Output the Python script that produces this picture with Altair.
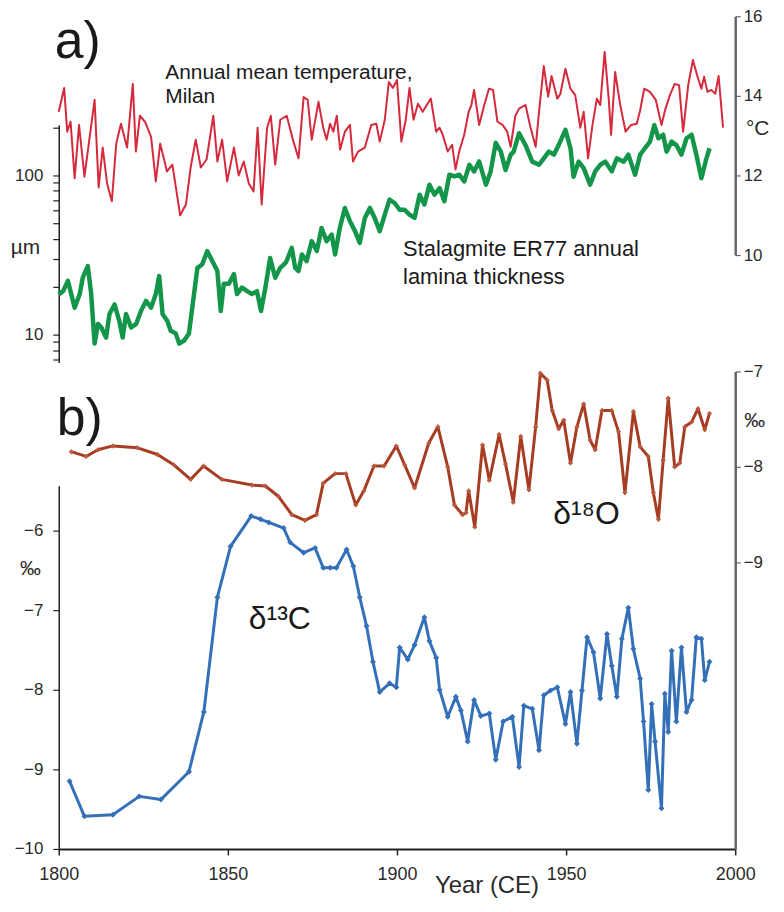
import altair as alt
import pandas as pd

# ---------------- data ----------------
temp_year = [1800.0, 1801.6, 1802.5, 1803.5, 1804.7, 1806.0, 1807.6, 1810.6, 1811.8, 1813.0,
             1814.3, 1815.7, 1817.0, 1818.4, 1820.2, 1821.9, 1822.8, 1824.0, 1825.5, 1827.3,
             1828.7, 1830.0, 1832.0, 1833.6, 1835.9, 1837.6, 1839.0, 1840.5, 1842.0, 1843.7,
             1845.7, 1846.9, 1848.3, 1849.8, 1851.8, 1853.2, 1854.7, 1856.2, 1857.6, 1858.8,
             1860.0, 1861.6, 1862.7, 1864.0, 1865.5, 1867.4, 1869.4, 1870.9, 1872.4, 1873.6,
             1874.8, 1876.8, 1878.2, 1879.2, 1880.2, 1881.2, 1882.2, 1883.2, 1884.6, 1886.1,
             1887.0, 1888.5, 1890.5, 1892.4, 1893.9, 1894.9, 1896.4, 1897.6, 1898.8, 1900.0,
             1901.3, 1902.6, 1903.7, 1904.9, 1906.2, 1907.6, 1908.8, 1910.0, 1911.6, 1912.6,
             1913.5, 1915.0, 1916.3, 1917.3, 1918.4, 1919.9, 1921.2, 1922.0, 1922.8, 1924.3,
             1925.8, 1927.2, 1928.4, 1929.7, 1931.2, 1932.6, 1933.6, 1935.0, 1936.1, 1938.0,
             1939.5, 1941.0, 1942.1, 1943.4, 1944.7, 1945.7, 1947.4, 1948.3, 1949.8, 1951.3,
             1952.7, 1954.2, 1955.2, 1956.5, 1957.8, 1959.1, 1960.1, 1961.4, 1962.6, 1963.3,
             1964.5, 1966.0, 1967.6, 1969.2, 1970.9, 1971.9, 1973.1, 1974.8, 1976.5, 1978.2,
             1979.4, 1980.7, 1982.1, 1983.4, 1984.6, 1986.1, 1987.5, 1988.8, 1990.0, 1990.8,
             1991.8, 1992.9, 1994.1, 1995.1, 1996.4]
temp_c = [13.6, 14.2, 13.1, 13.35, 11.93, 13.27, 11.97, 13.9, 11.7, 12.7,
          11.8, 11.35, 12.8, 13.3, 12.7, 14.3, 12.6, 13.5, 13.35, 12.97,
          11.85, 12.8, 12.1, 12.27, 11.0, 11.27, 12.2, 12.9, 12.2, 12.4,
          13.5, 12.35, 12.9, 11.85, 12.7, 12.0, 12.35, 11.8, 11.6, 13.2,
          11.27, 13.2, 13.5, 12.27, 13.4, 13.5, 12.85, 12.43, 13.97, 13.9,
          12.9, 13.85, 13.2, 12.9, 13.3, 13.1, 13.5, 12.65, 13.1, 13.27,
          12.35, 12.6, 12.7, 13.27, 13.3, 12.85, 13.4, 14.35, 14.2, 14.4,
          12.85, 13.4, 14.2, 13.4, 13.8, 13.6, 13.77, 13.93, 13.1, 13.2,
          13.03, 12.6, 12.77, 12.15, 12.6, 13.03, 13.6, 13.77, 14.15, 13.27,
          13.77, 14.18, 14.15, 13.35, 13.27, 13.1, 12.72, 13.5, 13.68, 13.77,
          13.2, 12.72, 13.68, 14.75, 13.98, 14.5, 13.93, 14.05, 14.68, 14.18,
          14.02, 13.2, 13.6, 12.43, 13.27, 13.93, 13.77, 15.1, 13.93, 13.02,
          14.6, 13.77, 13.1, 13.27, 13.3, 13.64, 14.18, 14.1, 13.9, 13.27,
          13.68, 14.02, 14.3, 14.27, 13.1, 14.27, 14.9, 14.5, 14.18, 14.48,
          14.1, 14.15, 14.05, 14.5, 13.2]

lam_year = [1800.0, 1801.3, 1802.7, 1804.7, 1806.2, 1807.1, 1808.6, 1809.6, 1810.6, 1811.6,
            1812.6, 1814.0, 1815.0, 1816.5, 1817.9, 1818.9, 1819.9, 1821.4, 1822.9, 1824.3,
            1825.8, 1827.3, 1828.7, 1829.7, 1830.7, 1832.1, 1833.1, 1834.6, 1835.6, 1837.1,
            1838.5, 1840.0, 1841.0, 1842.4, 1843.9, 1845.4, 1846.9, 1847.9, 1848.8, 1850.3,
            1851.8, 1852.7, 1854.2, 1855.7, 1857.1, 1858.6, 1859.8, 1861.1, 1862.5, 1864.0,
            1865.5, 1867.2, 1868.9, 1869.9, 1870.9, 1871.9, 1873.3, 1874.8, 1876.3, 1877.7,
            1879.2, 1880.7, 1881.7, 1883.1, 1884.6, 1886.1, 1887.6, 1889.0, 1890.5, 1892.0,
            1893.4, 1894.9, 1896.4, 1897.8, 1899.3, 1900.8, 1902.2, 1903.7, 1905.2, 1906.7,
            1908.1, 1909.6, 1911.1, 1912.6, 1914.0, 1915.5, 1917.0, 1918.4, 1919.9, 1921.4,
            1922.8, 1924.3, 1926.3, 1927.7, 1929.2, 1930.7, 1932.1, 1933.6, 1934.5, 1936.1,
            1938.0, 1940.0, 1942.0, 1943.4, 1944.9, 1946.4, 1947.8, 1949.8, 1951.3, 1952.2,
            1953.7, 1955.2, 1957.1, 1958.6, 1960.1, 1961.6, 1963.5, 1965.0, 1967.0, 1968.4,
            1970.4, 1971.9, 1973.3, 1974.8, 1976.1, 1977.3, 1978.7, 1979.7, 1981.2, 1982.6,
            1984.1, 1985.6, 1987.1, 1988.5, 1990.0, 1991.5, 1992.4]
lam_um = [17.9, 18.8, 21.8, 14.8, 18.0, 22.8, 27.0, 18.0, 8.8, 11.7,
          11.1, 9.6, 13.5, 15.5, 12.2, 9.6, 13.5, 11.1, 11.7, 14.1,
          16.3, 14.8, 18.0, 23.4, 13.5, 12.2, 10.6, 10.2, 8.8, 9.2,
          10.2, 18.0, 26.3, 27.6, 33.5, 29.0, 25.1, 14.1, 20.9, 20.9,
          24.0, 18.0, 19.8, 18.8, 18.0, 18.8, 14.1, 19.8, 30.3, 22.8,
          26.3, 28.5, 35.1, 26.3, 25.1, 31.9, 29.0, 38.7, 33.5, 46.8,
          38.7, 42.5, 31.9, 46.8, 62.5, 51.6, 44.7, 37.7, 54.1, 62.5,
          54.1, 44.7, 56.8, 70.5, 67.1, 60.9, 60.9, 56.8, 54.1, 75.7,
          65.6, 87.4, 75.7, 83.3, 68.8, 101.0, 98.6, 101.0, 91.7, 116.6,
          105.9, 122.4, 87.4, 105.9, 160.0, 141.0, 108.0, 134.6, 141.0, 184.0,
          155.0, 122.0, 116.6, 128.0, 141.0, 135.0, 155.0, 193.0, 148.0, 98.0,
          122.0, 111.0, 87.4, 106.0, 116.6, 122.0, 106.0, 128.0, 122.0, 135.0,
          101.0, 135.0, 148.0, 163.0, 207.0, 171.0, 180.0, 141.0, 163.0, 155.0,
          135.0, 171.0, 180.0, 135.0, 96.0, 128.0, 148.0]

d18_year = [1803.7, 1808.1, 1811.6, 1816.0, 1823.3, 1829.2, 1834.1, 1839.0, 1842.8, 1848.2,
            1857.1, 1861.1, 1865.0, 1868.9, 1872.8, 1876.2, 1878.2, 1881.7, 1884.9, 1887.8,
            1890.2, 1893.2, 1896.2, 1899.8, 1902.3, 1905.2, 1909.4, 1912.1, 1915.0, 1917.0,
            1919.4, 1920.4, 1921.2, 1923.0, 1925.3, 1927.3, 1930.2, 1932.1, 1934.4, 1936.6,
            1939.0, 1941.0, 1942.4, 1944.4, 1945.9, 1947.8, 1949.3, 1951.3, 1953.2, 1955.2,
            1957.1, 1958.6, 1960.6, 1963.5, 1965.5, 1967.4, 1969.9, 1971.9, 1974.3, 1975.8,
            1977.3, 1978.7, 1980.2, 1982.1, 1983.6, 1985.1, 1987.1, 1989.0, 1991.0, 1992.4]
d18_permil = [-7.84, -7.89, -7.82, -7.78, -7.80, -7.87, -7.98, -8.13, -7.99, -8.13,
              -8.19, -8.20, -8.31, -8.50, -8.56, -8.50, -8.17, -8.07, -8.07, -8.40,
              -8.25, -7.99, -7.99, -7.78, -7.98, -8.22, -7.75, -7.58, -8.00, -8.40,
              -8.50, -8.48, -8.25, -8.63, -7.77, -8.14, -7.66, -7.97, -8.37, -7.68,
              -8.24, -7.58, -7.02, -7.09, -7.41, -7.60, -7.51, -7.96, -7.58, -7.34,
              -7.72, -7.82, -7.41, -7.41, -7.63, -8.27, -7.42, -7.79, -7.89, -8.27,
              -8.55, -7.93, -7.28, -8.00, -7.96, -7.58, -7.53, -7.39, -7.61, -7.44]

d13_year = [1803.2, 1807.6, 1816.0, 1823.8, 1830.2, 1838.5, 1842.9, 1846.9, 1850.8, 1856.9,
            1859.7, 1862.1, 1866.5, 1868.4, 1872.4, 1875.8, 1878.2, 1880.2, 1882.1, 1885.1,
            1887.1, 1889.0, 1891.0, 1892.9, 1894.9, 1897.8, 1899.8, 1900.8, 1903.2, 1905.2,
            1908.1, 1909.6, 1911.6, 1912.6, 1915.0, 1917.4, 1918.9, 1920.9, 1922.8, 1924.8,
            1927.3, 1929.2, 1931.4, 1934.1, 1936.1, 1937.5, 1940.0, 1942.0, 1943.4, 1945.4,
            1947.4, 1949.8, 1951.3, 1953.2, 1954.7, 1956.2, 1958.1, 1960.1, 1962.1, 1963.5,
            1965.0, 1966.5, 1968.4, 1969.9, 1971.9, 1972.9, 1974.3, 1975.3, 1976.3, 1978.2,
            1979.2, 1980.2, 1981.2, 1982.6, 1984.1, 1985.6, 1987.1, 1988.5, 1990.0, 1991.0,
            1992.4]
d13_permil = [-9.15, -9.59, -9.57, -9.34, -9.38, -9.03, -8.28, -6.84, -6.20, -5.82,
              -5.86, -5.90, -5.97, -6.15, -6.28, -6.22, -6.47, -6.47, -6.47, -6.24,
              -6.45, -6.84, -7.20, -7.65, -8.03, -7.92, -7.97, -7.47, -7.62, -7.44,
              -7.09, -7.39, -7.60, -8.00, -8.34, -8.09, -8.26, -8.65, -8.13, -8.33,
              -8.30, -8.88, -8.40, -8.34, -8.97, -8.20, -8.24, -8.76, -8.07, -8.01,
              -7.97, -8.43, -8.03, -8.68, -8.01, -7.34, -7.53, -8.11, -7.30, -7.70,
              -8.09, -7.36, -6.97, -7.49, -7.86, -8.40, -9.26, -8.18, -8.65, -9.49,
              -8.05, -8.53, -7.51, -8.40, -7.47, -8.28, -8.13, -7.34, -7.36, -7.88,
              -7.65]

x_ticks = [1800, 1850, 1900, 1950, 2000]
temp_ticks = [10, 12, 14, 16]
lam_ticks = [7, 8, 9, 10, 20, 30, 40, 50, 60, 70, 80, 90, 100, 200]
d18_ticks = [-9, -8, -7]
d13_ticks = [-10, -9, -8, -7, -6]

ann_a_year = [1798.8, 1831.5, 1831.5, 1901.8, 1901.8]
ann_a_val = [14.95, 14.42, 13.82, 9.975, 9.275]
ann_a_text = ["a)", "Annual mean temperature,", "Milan", "Stalagmite ER77 annual", "lamina thickness"]
ann_a_size = [52, 21, 21, 22, 22]

ann_b_year = [1799.4, 1946.2]
ann_b_val = [-7.667, -8.60]
ann_b_text = ["b)", "δ¹⁸O"]
ann_b_size = [52, 32]

ann_c_year = [1856.2]
ann_c_val = [-7.24]
ann_c_text = ["δ¹³C"]
ann_c_size = [32]

# ---------------- styling ----------------
FONT = "Liberation Sans, Arial, sans-serif"
TXT = "#2a2a2a"
RED = "#d42a3c"
GREEN = "#13964a"
BROWN = "#a63c22"
BLUE = "#3470b8"
W, H = 680, 837

temp_df = pd.DataFrame({"year": temp_year, "v": temp_c})
lam_df = pd.DataFrame({"year": lam_year, "v": lam_um})
d18_df = pd.DataFrame({"year": d18_year, "v": d18_permil})
d13_df = pd.DataFrame({"year": d13_year, "v": d13_permil})
ann_a = pd.DataFrame({"year": ann_a_year, "v": ann_a_val, "t": ann_a_text, "s": ann_a_size})
ann_b = pd.DataFrame({"year": ann_b_year, "v": ann_b_val, "t": ann_b_text, "s": ann_b_size})
ann_c = pd.DataFrame({"year": ann_c_year, "v": ann_c_val, "t": ann_c_text, "s": ann_c_size})

X = alt.X("year:Q",
          scale=alt.Scale(domain=[1800, 2000], nice=False, zero=False),
          axis=alt.Axis(values=x_ticks, format="d", title="Year (CE)", grid=False,
                        labelFlush=False, labelFontSize=18, labelPadding=11, tickSize=6,
                        domainColor="#222", domainWidth=2, tickColor="#222", tickWidth=1.5,
                        titleFontSize=24, titleX=430, titleY=44, titleAlign="center",
                        titleBaseline="alphabetic"))

temp_scale = alt.Scale(domain=[10, 16], range=[240, 0], nice=False, zero=False)
lam_scale = alt.Scale(type="log", domain=[6.7, 208], range=[348, 109], nice=False)
d18_scale = alt.Scale(domain=[-12, -7], range=[837, 357], nice=False, zero=False)
d13_scale = alt.Scale(domain=[-10, -5.44], range=[837, 472], nice=False, zero=False)


def yaxis(orient, values, title, tx, ty, color, width, label_expr=None, tick_size=5, pad=4):
    kw = dict(orient=orient, values=values, title=title, grid=False, labelFlush=False,
              labelOverlap=False, labelFontSize=17, labelPadding=pad, tickSize=tick_size,
              domainColor=color, domainWidth=width, tickColor=color, tickWidth=1.2,
              titleAngle=0, titleFontSize=21, titleX=tx, titleY=ty, titleAlign="center",
              titleBaseline="middle")
    if label_expr:
        kw["labelExpr"] = label_expr
    return alt.Axis(**kw)


temp_line = alt.Chart(temp_df).mark_line(color=RED, strokeWidth=2, strokeJoin="round").encode(
    x=X,
    y=alt.Y("v:Q", scale=temp_scale,
            axis=yaxis("right", temp_ticks, "°C", 22, 113, "#666", 2.5, pad=3)))

lam_line = alt.Chart(lam_df).mark_line(color=GREEN, strokeWidth=4.5, strokeJoin="round").encode(
    x=X,
    y=alt.Y("v:Q", scale=lam_scale,
            axis=yaxis("left", lam_ticks, "µm", -34, 232, "#222", 1.5,
                       label_expr="(datum.value == 10 || datum.value == 100) ? '' + datum.value : ''",
                       tick_size=6, pad=10)))

d18_line = alt.Chart(d18_df).mark_line(
    color=BROWN, strokeWidth=3, strokeJoin="round",
    point=alt.OverlayMarkDef(shape="cross", size=20, filled=True, color="#b9583c")).encode(
    x=X,
    y=alt.Y("v:Q", scale=d18_scale,
            axis=yaxis("right", d18_ticks, "‰", 19, 406, "#666", 2.5, pad=3)))

d13_line = alt.Chart(d13_df).mark_line(
    color=BLUE, strokeWidth=3, strokeJoin="round",
    point=alt.OverlayMarkDef(shape="diamond", size=36, filled=True, color=BLUE)).encode(
    x=X,
    y=alt.Y("v:Q", scale=d13_scale,
            axis=yaxis("left", d13_ticks, "‰", -29, 555, "#222", 1.5, tick_size=6, pad=10)))


def ann(df, scale):
    return alt.Chart(df).mark_text(align="left", baseline="alphabetic", font=FONT,
                                   color="#1a1a1a").encode(
        x=X,
        y=alt.Y("v:Q", scale=scale, axis=None),
        text="t:N",
        size=alt.Size("s:Q", scale=None, legend=None))


chart = alt.layer(
    temp_line, lam_line, d18_line, d13_line,
    ann(ann_a, temp_scale), ann(ann_b, d18_scale), ann(ann_c, d13_scale)
).resolve_scale(y="independent").properties(
    width=W, height=H,
    padding={"left": 51, "top": 6, "right": 41, "bottom": 50},
    autosize=alt.AutoSizeParams(type="none"),
    background="white"
).configure_view(stroke=None).configure_axis(
    labelFont=FONT, titleFont=FONT, labelColor=TXT, titleColor=TXT, titleFontWeight="normal"
)

chart.save("out.html", embed_options={"renderer": "svg", "actions": False})
